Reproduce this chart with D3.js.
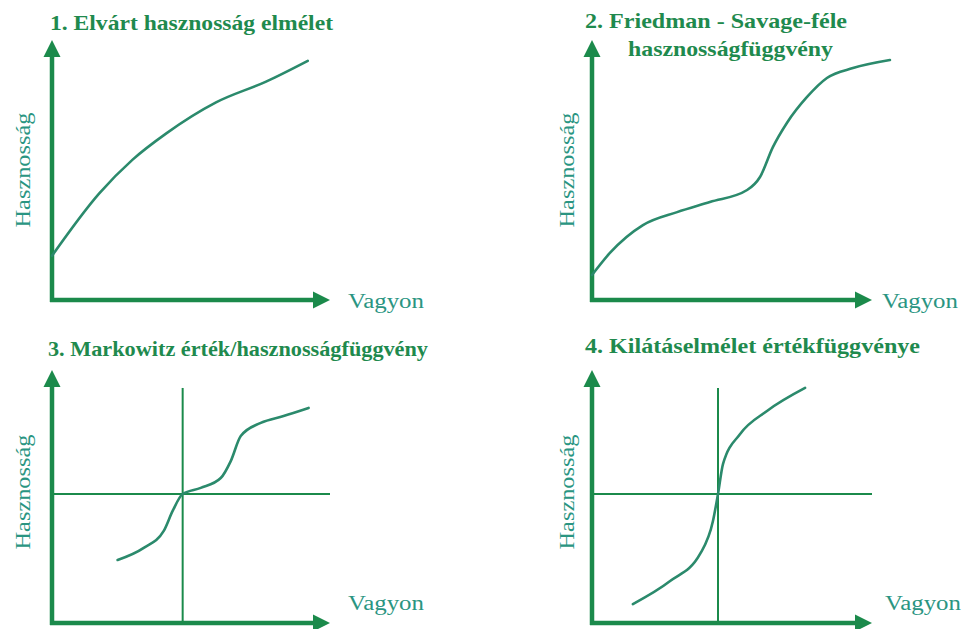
<!DOCTYPE html>
<html><head><meta charset="utf-8">
<script src="https://cdn.jsdelivr.net/npm/d3@7"></script>
<style>html,body{margin:0;padding:0;background:#fff;}svg{display:block;}</style>
</head><body>
<script>
// ---- data ----
const titles = [
  ["1. Elvárt hasznosság elmélet"],
  ["2. Friedman - Savage-féle", "hasznosságfüggvény"],
  ["3. Markowitz érték/hasznosságfüggvény"],
  ["4. Kilátáselmélet értékfüggvénye"]
];
const xAxisLabel = "Vagyon";
const yAxisLabel = "Hasznosság";

const wealth1  = [0, 17, 29, 41, 59, 77, 92];
const utility1 = [17, 41, 54, 64, 76, 84, 92];

const wealth2  = [0, 6.4, 18.2, 30.4, 42.1, 55.4, 60, 64.6, 69.6, 76.8, 83.9, 93.2, 106.4];
const utility2 = [9.6, 18.1, 28.8, 33.8, 37.7, 42.3, 47.3, 58.8, 68.1, 78.1, 85.4, 89.2, 92.3];

const wealth3  = [-23.4, -14.0, -6.8, -3.6, 0, 6.5, 13.7, 17.3, 20.9, 28.1, 36.3, 45.3];
const utility3 = [-26.1, -21.3, -14.6, -6.7, 0, 2.4, 6.3, 13.0, 22.9, 28.1, 30.8, 34.0];

const wealth4  = [-30.4, -17.1, -6.4, -1.8, 0, 1.8, 7.9, 17.5, 31.1];
const utility4 = [-43.5, -34.4, -23.7, -10.7, 0, 11.9, 23.7, 32.8, 41.9];

// ---- layout ----
const W = 967, H = 629;
const AXIS = "#1b8a4b", CURVE = "#2b8a6c", TITLE = "#1f8a4e", LABEL = "#2a9582";
const panels = [
  {xs:[52,330], ys:[300,40], xd:[0,100], yd:[0,100], w:wealth1, u:utility1, ref:false,
   title:[{x:50,y:30,len:283}], vag:{x:348,y:308}, has:{x:30,y:170}},
  {xs:[592,872], ys:[300,40], xd:[0,100], yd:[0,100], w:wealth2, u:utility2, ref:false,
   title:[{x:585,y:28,len:262},{x:628,y:56,len:205}], vag:{x:882,y:308}, has:{x:574,y:170}},
  {xs:[52,330], ys:[623,370], xd:[-47,53], yd:[-51,49], w:wealth3, u:utility3, ref:true, refTop:41.9,
   title:[{x:48,y:356,len:380}], vag:{x:348,y:610}, has:{x:30,y:492}},
  {xs:[592,872], ys:[623,370], xd:[-45,55], yd:[-51,49], w:wealth4, u:utility4, ref:true, refTop:41.9,
   title:[{x:585,y:353,len:335}], vag:{x:885,y:610}, has:{x:574,y:492}}
];

const svg = d3.select("body").append("svg").attr("width", W).attr("height", H);

panels.forEach((p, i) => {
  const g = svg.append("g");
  const x = d3.scaleLinear().domain(p.xd).range(p.xs);
  const y = d3.scaleLinear().domain(p.yd).range(p.ys);
  const ox = p.xs[0], oy = p.ys[0], xt = p.xs[1], yt = p.ys[1];
  const aL = 17, aW = 8.5;

  // reference lines
  if (p.ref) {
    g.append("line").attr("x1", x(p.xd[0]) + 1).attr("x2", xt)
      .attr("y1", y(0)).attr("y2", y(0))
      .attr("stroke", AXIS).attr("stroke-width", 2);
    g.append("line").attr("x1", x(0)).attr("x2", x(0))
      .attr("y1", y(p.refTop)).attr("y2", oy)
      .attr("stroke", AXIS).attr("stroke-width", 2);
  }

  // axes
  g.append("line").attr("x1", ox).attr("x2", ox).attr("y1", oy + 2).attr("y2", yt + aL - 1)
    .attr("stroke", AXIS).attr("stroke-width", 4.5);
  g.append("line").attr("x1", ox - 2).attr("x2", xt - aL + 1).attr("y1", oy).attr("y2", oy)
    .attr("stroke", AXIS).attr("stroke-width", 4.5);
  g.append("path").attr("d", `M${ox},${yt}L${ox - aW},${yt + aL}L${ox + aW},${yt + aL}Z`).attr("fill", AXIS);
  g.append("path").attr("d", `M${xt},${oy}L${xt - aL},${oy - aW}L${xt - aL},${oy + aW}Z`).attr("fill", AXIS);

  // curve
  const pts = p.w.map((v, k) => [v, p.u[k]]);
  const line = d3.line().x(d => x(d[0])).y(d => y(d[1])).curve(d3.curveMonotoneX);
  g.append("path").attr("d", line(pts)).attr("fill", "none")
    .attr("stroke", CURVE).attr("stroke-width", 2.6).attr("stroke-linecap", "round");

  // titles
  titles[i].forEach((t, k) => {
    const pos = p.title[k];
    g.append("text").attr("x", pos.x).attr("y", pos.y)
      .attr("font-family", "'Liberation Serif','Times New Roman',serif")
      .attr("font-weight", "bold").attr("font-size", 22)
      .attr("fill", TITLE)
      .attr("textLength", pos.len).attr("lengthAdjust", "spacingAndGlyphs")
      .text(t);
  });

  // axis labels
  g.append("text").attr("x", p.vag.x).attr("y", p.vag.y)
    .attr("font-family", "'Liberation Serif','Times New Roman',serif")
    .attr("font-size", 20).attr("fill", LABEL)
    .attr("textLength", 76).attr("lengthAdjust", "spacingAndGlyphs")
    .text(xAxisLabel);
  g.append("text").attr("transform", `translate(${p.has.x},${p.has.y}) rotate(-90)`)
    .attr("text-anchor", "middle")
    .attr("font-family", "'Liberation Serif','Times New Roman',serif")
    .attr("font-size", 20).attr("fill", LABEL)
    .attr("textLength", 115).attr("lengthAdjust", "spacingAndGlyphs")
    .text(yAxisLabel);
});
</script>
</body></html>
